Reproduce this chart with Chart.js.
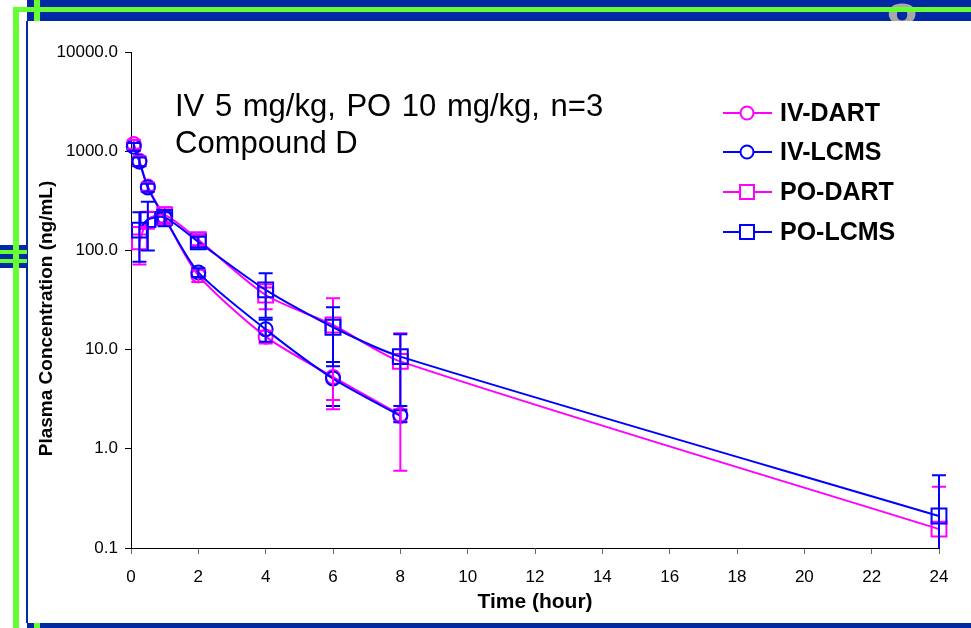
<!DOCTYPE html>
<html lang="en">
<head>
<meta charset="UTF-8">
<title>Compound D PK</title>
<script src="https://cdn.jsdelivr.net/npm/chart.js"></script>
<style>
  body { margin: 0; background: #fff; }
  #wrap { position: relative; width: 971px; height: 628px; overflow: hidden; }
  #wrap canvas { position: absolute; left: 0; top: 0; }
  .deco { position: absolute; }
  .blue { background: #0029a3; }
  .green { background: #66ff33; }
</style>
</head>
<body>
<div id="wrap">
  <canvas id="grafico" width="971" height="628"></canvas>
  <!-- frame of the slide -->
  <div class="deco blue" style="left:27px;top:0;width:944px;height:21px"></div>
  <div class="deco" style="left:884px;top:0;width:50px;height:21px;overflow:hidden">
    <span style="position:absolute;left:2px;top:-10px;font:bold 58px 'Liberation Sans',Arial,sans-serif;color:#a8a8a8">8</span>
  </div>
  <div class="deco green" style="left:13px;top:7px;width:958px;height:5px"></div>
  <div class="deco green" style="left:34px;top:0;width:6px;height:21px"></div>
  <div class="deco blue" style="left:26px;top:21px;width:2px;height:602px"></div>
  <div class="deco blue" style="left:27px;top:623px;width:944px;height:5px"></div>
  <div class="deco green" style="left:34px;top:623px;width:6px;height:5px"></div>
  <div class="deco blue" style="left:0;top:245px;width:27px;height:23px"></div>
  <div class="deco green" style="left:0;top:250px;width:27px;height:4px"></div>
  <div class="deco green" style="left:0;top:259px;width:27px;height:4px"></div>
  <div class="deco green" style="left:13px;top:7px;width:6px;height:621px"></div>
</div>

<script>
// sampling times (hour)
var ivTimes = [0.083, 0.25, 0.5, 1, 2, 4, 6, 8];
var poTimes = [0.25, 0.5, 1, 2, 4, 6, 8, 24];

// mean concentrations (ng/mL)
var ivDart = [1180, 800, 440, 215, 56, 13.5, 5.3, 2.2];
var ivLcms = [1110, 785, 430, 212, 60, 16, 5.1, 2.15];
var poDart = [122, 205, 228, 128, 35.5, 17.7, 7.6, 0.155];
var poLcms = [160, 205, 215, 122, 40, 16.8, 8.5, 0.21];

// standard deviations
var ivDartSd = [120, 90, 40, 35, 8, 2, 2.2, 0.3];
var ivLcmsSd = [100, 80, 40, 30, 6, 4, 2.4, 0.3];
var poDartSd = [50, 40, 45, 15, 10, 15.2, 7, 0.26];
var poLcmsSd = [83, 105, 40, 15, 19, 10, 5.8, 0.33];

var yTicks = [0.1, 1, 10, 100, 1000, 10000];
var xTicks = [0, 2, 4, 6, 8, 10, 12, 14, 16, 18, 20, 22, 24];

var serieNomes = ['IV-DART', 'IV-LCMS', 'PO-DART', 'PO-LCMS'];

var MAGENTA = '#ff00ff';
var AZUL = '#0000ff';
var FONTE = "'Liberation Sans', Arial, sans-serif";

function pontos(tempos, valores) {
    var lista = [];
    for (var i = 0; i < tempos.length; i++) {
        lista.push({ x: tempos[i], y: valores[i] });
    }
    return lista;
}

function serie(nome, tempos, valores, sd, cor, estilo, ordem) {
    return {
        label: nome,
        data: pontos(tempos, valores),
        sd: sd,
        borderColor: cor,
        backgroundColor: cor,
        borderWidth: 2,
        pointStyle: estilo,
        pointRadius: estilo == 'rect' ? 10.5 : 7,
        pointBorderWidth: 2,
        pointBackgroundColor: 'rgba(0,0,0,0)',
        pointBorderColor: cor,
        tension: 0.25,
        order: ordem,
        clip: false,
        fill: false
    };
}

// error bars drawn from the scales
var barrasErro = {
    id: 'barrasErro',
    afterDatasetsDraw: function (chart) {
        var ctx = chart.ctx;
        var yScale = chart.scales.y;
        ctx.save();
        [0, 1, 2, 3].forEach(function (d) {
            var ds = chart.data.datasets[d];
            var meta = chart.getDatasetMeta(d);
            ctx.strokeStyle = ds.borderColor;
            ctx.lineWidth = 2;
            meta.data.forEach(function (el, i) {
                var v = ds.data[i].y;
                var s = ds.sd[i];
                var alto = yScale.getPixelForValue(v + s);
                var baixo = yScale.getPixelForValue(Math.max(v - s, 0.1));
                ctx.beginPath();
                ctx.moveTo(el.x, alto);
                ctx.lineTo(el.x, baixo);
                ctx.moveTo(el.x - 7, alto);
                ctx.lineTo(el.x + 7, alto);
                if (v - s > 0.1) {
                    ctx.moveTo(el.x - 7, baixo);
                    ctx.lineTo(el.x + 7, baixo);
                }
                ctx.stroke();
            });
        });
        ctx.restore();
    }
};

// legend box and note text inside the plot
var legendaTexto = {
    id: 'legendaTexto',
    afterDraw: function (chart) {
        var ctx = chart.ctx;
        ctx.save();
        ctx.fillStyle = '#000';
        ctx.font = '31px ' + FONTE;
        ctx.textBaseline = 'alphabetic';
        ctx.textAlign = 'left';
        ctx.wordSpacing = '2px';
        ctx.fillText('IV 5 mg/kg, PO 10 mg/kg, n=3', 175, 116);
        ctx.wordSpacing = '0px';
        ctx.fillText('Compound D', 175, 153);

        var linhasY = [113, 152, 192, 232];
        chart.data.datasets.forEach(function (ds, i) {
            var y = linhasY[i];
            ctx.strokeStyle = ds.borderColor;
            ctx.lineWidth = 2;
            ctx.beginPath();
            ctx.moveTo(723, y);
            ctx.lineTo(772, y);
            ctx.stroke();
            ctx.beginPath();
            if (ds.pointStyle == 'rect') {
                ctx.rect(740, y - 7, 14, 14);
            } else {
                ctx.arc(747, y, 6.5, 0, Math.PI * 2);
            }
            ctx.fillStyle = '#fff';
            ctx.fill();
            ctx.stroke();
            ctx.fillStyle = '#000';
            ctx.font = 'bold 25px ' + FONTE;
            ctx.textBaseline = 'middle';
            ctx.fillText(ds.label, 780, y + 1);
        });
        ctx.restore();
    }
};

var config = {
    type: 'line',
    data: {
        datasets: [
            serie(serieNomes[0], ivTimes, ivDart, ivDartSd, MAGENTA, 'circle', 4),
            serie(serieNomes[1], ivTimes, ivLcms, ivLcmsSd, AZUL, 'circle', 3),
            serie(serieNomes[2], poTimes, poDart, poDartSd, MAGENTA, 'rect', 2),
            serie(serieNomes[3], poTimes, poLcms, poLcmsSd, AZUL, 'rect', 1)
        ]
    },
    options: {
        responsive: false,
        animation: false,
        layout: { padding: { left: 27, right: 32, top: 52, bottom: 10 } },
        plugins: {
            legend: { display: false },
            tooltip: { enabled: false }
        },
        scales: {
            x: {
                type: 'linear',
                min: 0,
                max: 24,
                afterBuildTicks: function (axis) {
                    axis.ticks = xTicks.map(function (v) { return { value: v }; });
                },
                afterFit: function (axis) { axis.height = 70; },
                grid: { drawOnChartArea: false, drawTicks: true, tickLength: 6, color: '#666' },
                border: { display: true, color: '#000', width: 1 },
                ticks: { color: '#000', padding: 13, font: { family: FONTE, size: 17 }, maxRotation: 0 },
                title: {
                    display: true,
                    text: 'Time (hour)',
                    color: '#000',
                    font: { family: FONTE, size: 21, weight: 'bold' },
                    padding: { top: 0, bottom: 3 }
                }
            },
            y: {
                type: 'logarithmic',
                min: 0.1,
                max: 10000,
                afterBuildTicks: function (axis) {
                    axis.ticks = yTicks.map(function (v) { return { value: v }; });
                },
                afterFit: function (axis) { axis.width = 104; },
                grid: { drawOnChartArea: false, drawTicks: true, tickLength: 6, color: '#000' },
                border: { display: true, color: '#000', width: 1 },
                ticks: {
                    color: '#000',
                    padding: 7,
                    font: { family: FONTE, size: 17 },
                    callback: function (v) { return Number(v).toFixed(1); }
                },
                title: {
                    display: true,
                    text: 'Plasma Concentration (ng/mL)       ',
                    color: '#000',
                    font: { family: FONTE, size: 19, weight: 'bold' },
                    padding: { top: 8, bottom: 0 }
                }
            }
        }
    },
    plugins: [barrasErro, legendaTexto]
};

var ctx = document.getElementById('grafico').getContext('2d');
var myChart = new Chart(ctx, config);
</script>
</body>
</html>
